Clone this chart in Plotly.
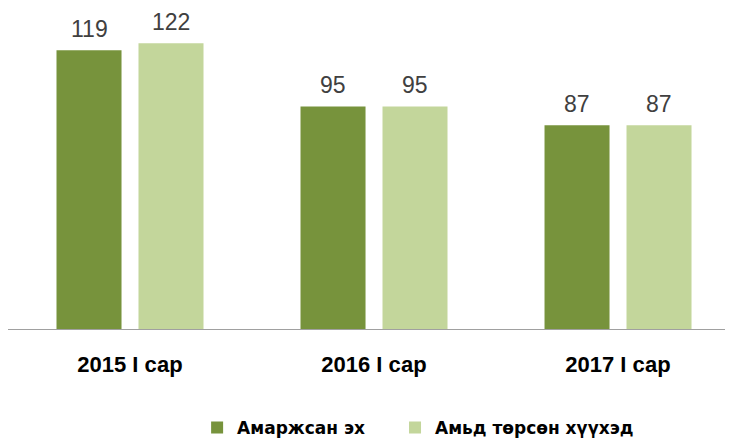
import plotly.graph_objects as go

categories = ["2015 I сар", "2016 I сар", "2017 I сар"]
series_names = ["Амаржсан эх", "Амьд төрсөн хүүхэд"]
mothers = [119, 95, 87]
births = [122, 95, 87]
colors = ["#77933C", "#C3D69B"]
legend_ids = ["legend", "legend2"]

fig = go.Figure()
for name, vals, col, lg in zip(series_names, [mothers, births], colors, legend_ids):
    fig.add_trace(go.Bar(x=categories, y=vals, name=name, legend=lg,
                         marker=dict(color=col, line=dict(width=0))))

shifts = [-41, 41]
for vals, sh in zip([mothers, births], shifts):
    for c, v in zip(categories, vals):
        fig.add_annotation(x=c, y=v, text=str(v), showarrow=False, xshift=sh, yshift=7,
                           yanchor="bottom", borderpad=0,
                           font=dict(family="Liberation Sans", size=23, color="#404040"))

legend_font = dict(family="DejaVu Sans", size=17, color="black", weight="bold")
fig.update_layout(
    width=733, height=442,
    margin=dict(l=0, r=0, t=0, b=121, autoexpand=False),
    paper_bgcolor="white", plot_bgcolor="white",
    barmode="group", bargap=0.328, bargroupgap=0.207,
    showlegend=True,
    legend=dict(orientation="h", x=0.258, xanchor="left", y=-0.308, yanchor="middle",
                font=legend_font, itemwidth=30),
    legend2=dict(orientation="h", x=0.528, xanchor="left", y=-0.308, yanchor="middle",
                 font=legend_font, itemwidth=30),
    xaxis=dict(range=[-0.5, 2.504], showline=True, linecolor="#a0a0a0", linewidth=1,
               ticks="outside", ticklen=16, tickcolor="rgba(0,0,0,0)", automargin=False,
               tickfont=dict(family="Liberation Sans", size=22, color="black", weight="bold"),
               showgrid=False, zeroline=False),
    yaxis=dict(range=[0, 137], visible=False, showgrid=False, zeroline=False, automargin=False),
)
fig.write_html("out.html")
